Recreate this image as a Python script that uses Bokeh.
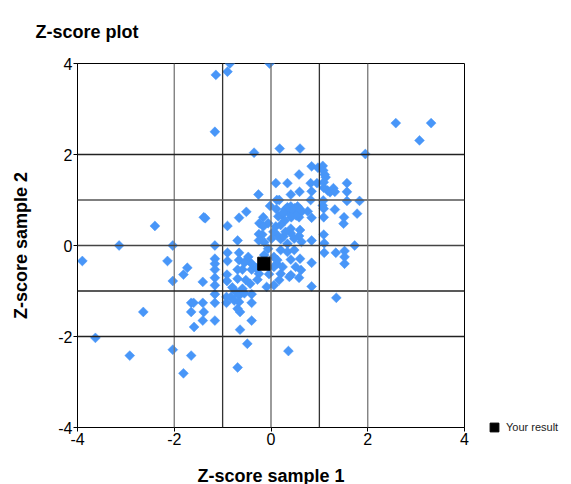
from bokeh.plotting import figure
from bokeh.models import Span, FixedTicker, Legend, LegendItem, ColumnDataSource
from bokeh.embed import file_html
from bokeh.resources import INLINE
import numpy as np

# ---- data ----
sample1 = [
    -0.85, -0.90, -1.14, -0.03, -1.16, 2.58, 3.31, 3.07, -0.35, 0.18, 0.60, 1.95,
    0.84, 0.97, 1.07, 1.08, 1.11, 1.13, 0.58, 0.10, 0.34, 0.82, 0.95, 1.09, 1.57,
    0.41, 0.59, 0.84, 1.09, 1.17, 1.22, 1.29, 1.32, 1.57, -0.26, 0.12, 0.17, 0.82,
    1.08, 1.57, 1.83, -0.02, 0.11, 0.34, 0.41, 0.49, 0.55, 0.38, 0.48, 0.56, 0.63,
    0.76, 1.07, 1.09, 1.32, 1.78, -0.51, -0.66, -0.16, -0.24, -0.06, 0.15, 0.22,
    0.29, 0.58, 0.84, 1.09, 1.51, 1.50, -1.39, -1.36, -2.40, -0.90, -0.16, 0.10,
    0.20, 0.41, 0.60, -0.25, -0.18, 0.12, 0.41, 0.58, 1.09, -0.69, -0.25, -0.14,
    0.01, 0.20, 0.34, 0.63, 0.84, 1.10, -3.14, -2.03, -1.16, 1.73,
    0.45, 0.52, 0.30, 0.60, 0.42, 0.25, 0.26, 0.48, 0.05, 0.30,
    -3.90, -2.14, -1.73, -1.81, -2.03, -1.41, -1.16, -1.16, -1.16, -1.16, -1.16,
    -1.16, -1.16, -1.16, -0.90, -0.90, -0.91, -0.91, -0.92, -0.92, -0.66, -0.66,
    -0.49, -0.47, -0.40, -0.69, -0.59, -0.40, -0.69, -0.52, -0.43, -0.59, -0.73,
    -0.66, -0.83, -0.76, -0.66, -0.40, -0.40, -0.69, -0.64, -0.40, -0.64, -0.49,
    -0.69, 0.36, -1.65, -1.60, -1.65, -1.39, -1.41, -1.59, -1.41, -2.64, -3.63,
    -2.92, -2.03, -1.65, -1.81, -0.25, -0.09, -0.04, 0.06, 0.12, 0.20, 0.17, 0.24,
    0.38, 0.41, 0.41, 0.51, 0.58, 0.60, 0.62, 0.84, 0.84, 1.10, 1.34, 1.52, 1.52,
    1.52, 1.35, 0.06, 0.13, -0.06, 0.20, 0.34, 0.48, -0.14, 0.06,
    -0.55, -0.30, -0.80, -0.55, -0.28,
]
sample2 = [
    4.00, 3.82, 3.75, 4.00, 2.50, 2.69, 2.69, 2.31, 2.04, 2.13, 2.13, 2.01,
    1.74, 1.71, 1.75, 1.65, 1.56, 1.50, 1.56, 1.37, 1.37, 1.37, 1.37, 1.39, 1.37,
    1.12, 1.18, 1.19, 1.27, 1.21, 1.17, 1.26, 1.18, 1.18, 1.12, 1.00, 1.00, 1.00,
    0.99, 0.98, 0.98, 0.87, 0.80, 0.84, 0.86, 0.82, 0.86, 0.70, 0.73, 0.70, 0.74,
    0.75, 0.88, 0.81, 0.79, 0.70, 0.74, 0.61, 0.62, 0.49, 0.49, 0.64, 0.67,
    0.55, 0.62, 0.61, 0.62, 0.62, 0.48, 0.62, 0.60, 0.43, 0.43, 0.42, 0.42,
    0.45, 0.37, 0.34, 0.25, 0.24, 0.24, 0.27, 0.21, 0.24, 0.11, 0.11, 0.07,
    0.15, 0.14, 0.04, 0.08, 0.11, 0.05, 0.00, 0.00, 0.00, 0.00,
    0.78, 0.66, 0.80, 0.80, 0.62, 0.72, 0.20, 0.15, 0.30, 0.30,
    -0.34, -0.34, -0.49, -0.64, -0.78, -0.80, -0.29, -0.40, -0.53, -0.71, -0.875,
    -1.07, -1.26, -1.65, -0.16, -0.34, -0.64, -0.78, -1.13, -1.26, -0.16, -0.32,
    -0.32, -0.25, -0.40, -0.53, -0.53, -0.53, -0.73, -0.76, -0.84, -0.95, -1.02,
    -1.10, -1.13, -1.21, -1.24, -1.07, -1.26, -1.39, -1.46, -1.65, -1.85, -2.16,
    -2.68, -2.32, -1.26, -1.26, -1.46, -1.46, -1.65, -1.79, -1.26, -1.46, -2.03,
    -2.42, -2.29, -2.42, -2.81, -0.62, -0.91, -0.63, -0.875, -0.40, -0.62, -0.76, -0.47,
    -0.69, -0.65, -0.31, -0.47, -0.71, -0.29, -0.54, -0.38, -0.90, -0.16, -0.16, -0.12,
    -0.25, -0.40, -1.15, -0.25, -0.32, -0.07, -0.10, -0.14, -0.10, -0.21, -0.47,
    -0.38, -0.50, -0.92, -1.05, -0.75,
]
your_x = [-0.14]
your_y = [-0.40]
tick_values = [-4, -2, 0, 2, 4]
tick_labels = ["-4", "-2", "0", "2", "4"]
grid_values = [-2, -1, 0, 1, 2]

FONT = "Liberation Sans"

p = figure(frame_width=387, frame_height=364, x_range=(-4, 4), y_range=(-4, 4),
           output_backend="svg", toolbar_location=None,
           min_border_left=77, min_border_right=105, min_border_top=63,
           min_border_bottom=55, title="Z-score plot")

p.title.text_font = FONT
p.title.text_font_size = "18px"
p.title.text_font_style = "bold"
p.title.text_color = "black"
p.title.align = "left"
p.title.offset = -42
p.title.standoff = 40
p.title.vertical_align = "top"

p.grid.visible = False
p.outline_line_color = "black"
p.outline_line_alpha = 1
p.background_fill_color = "white"

vcolors = {-2: "#777777", -1: "#333333", 0: "#666666", 1: "#333333", 2: "#777777"}
hcolors = {-2: "#222222", -1: "#222222", 0: "#444444", 1: "#555555", 2: "#222222"}
for g in grid_values:
    p.add_layout(Span(location=g, dimension="height", line_color=vcolors[g], line_width=1.3))
    p.add_layout(Span(location=g, dimension="width", line_color=hcolors[g], line_width=1.3))

for ax in (p.xaxis, p.yaxis):
    ax.ticker = FixedTicker(ticks=tick_values)
    ax.major_label_overrides = {v: s for v, s in zip(tick_values, tick_labels)}
    ax.minor_tick_line_color = None
    ax.major_tick_out = 4
    ax.major_tick_in = 0
    ax.axis_line_color = "black"
    ax.major_tick_line_color = "black"
    ax.major_label_text_font = FONT
    ax.major_label_text_font_size = "16px"
    ax.major_label_text_color = "black"
    ax.axis_label_text_font = FONT
    ax.axis_label_text_font_size = "18px"
    ax.axis_label_text_font_style = "bold"
    ax.axis_label_text_color = "black"
    ax.major_label_standoff = 1

p.xaxis.axis_label = "Z-score sample 1"
p.yaxis.axis_label = "Z-score sample 2"
p.xaxis.axis_label_standoff = 18
p.yaxis.axis_label_standoff = 24

src = ColumnDataSource(dict(x=sample1, y=sample2))
p.scatter("x", "y", source=src, marker="square", angle=np.pi / 4, size=7,
          fill_color="#4896f8", line_color="#4896f8", line_width=0.5)

r_you = p.scatter(your_x, your_y, marker="square", size=13,
                  fill_color="black", line_color="black")

legend = Legend(items=[LegendItem(label="Your result", renderers=[r_you])],
                location=(19, -11), border_line_color=None,
                background_fill_alpha=0, label_text_font=FONT,
                label_text_font_size="11px", label_text_color="#222222",
                glyph_width=22, glyph_height=22, padding=0, margin=0,
                label_standoff=1, spacing=0)
p.add_layout(legend, "right")

open("out.html", "w").write(file_html(p, INLINE))
